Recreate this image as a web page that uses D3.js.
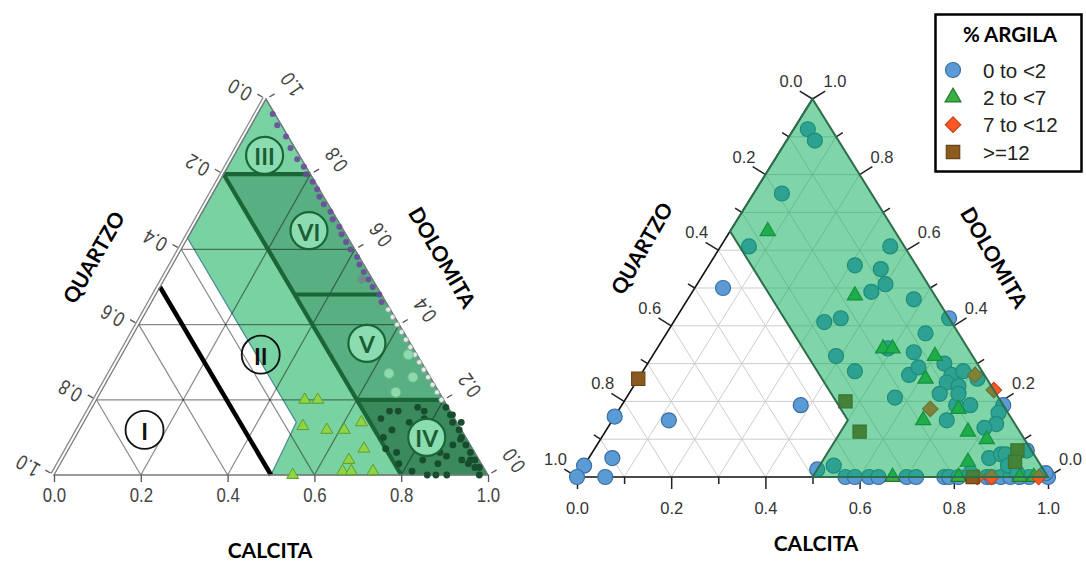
<!DOCTYPE html>
<html><head><meta charset="utf-8">
<script src="https://cdn.jsdelivr.net/npm/d3@7/dist/d3.min.js"></script>
<style>
body{margin:0;background:#fff;}
svg{display:block;}
</style></head><body>
<svg id="chart" width="1086" height="562"></svg>
<script>
// ================= DATA =================
// all compositions are [calcita, dolomita]; quartzo = 1 - calcita - dolomita
const axisNames = { quartzo: "QUARTZO", calcita: "CALCITA", dolomita: "DOLOMITA" };
const majorTicks = [0, 0.2, 0.4, 0.6, 0.8, 1.0];
const minorTicks = [0.1, 0.3, 0.5, 0.7, 0.9];
const leftGridSteps = [0.2, 0.4, 0.6, 0.8];
const rightGridSteps = [0.1, 0.2, 0.3, 0.4, 0.5, 0.6, 0.7, 0.8, 0.9];

// ---- left diagram: classification zones ----
const zoneCarbonate = [[0, 0.63], [0, 1], [1, 0], [0.5, 0], [0.49, 0.14]];
const zoneQ20 = [[0, 0.8], [0.2, 0.8], [1, 0], [0.8, 0]];
const zoneIV = [[0.6, 0.2], [0.8, 0.2], [1, 0], [0.8, 0]];
const lineQ50 = [[0.5, 0], [0, 0.5]];
const lineQ20 = [[0, 0.8], [0.8, 0]];
const lineD80 = [[0, 0.8], [0.2, 0.8]];
const lineD48 = [[0.32, 0.48], [0.52, 0.48]];
const lineD20 = [[0.6, 0.2], [0.8, 0.2]];
const zoneNames = ["I", "II", "III", "IV", "V", "VI"];
const zoneLabelAt = [[0.15, 0.12], [0.32, 0.32], [0.07, 0.85], [0.81, 0.10], [0.55, 0.35], [0.27, 0.65]];

// ---- left diagram: samples ----
const leftPurple = [[0.035,0.96],[0.06,0.93],[0.095,0.90],[0.12,0.87],[0.15,0.84],[0.175,0.82],[0.19,0.80],[0.215,0.78],[0.235,0.76],[0.25,0.74],[0.27,0.72],[0.295,0.70],[0.31,0.68],[0.335,0.66],[0.35,0.64],[0.37,0.62],[0.39,0.60],[0.415,0.58],[0.43,0.56],[0.45,0.54],[0.47,0.52],[0.49,0.50],[0.515,0.48],[0.53,0.46],[0.455,0.52]];
const leftGrey = [[0.555,0.44],[0.575,0.42],[0.595,0.40],[0.615,0.38],[0.635,0.36],[0.655,0.34],[0.675,0.32],[0.695,0.30],[0.715,0.28],[0.735,0.26],[0.755,0.24],[0.775,0.22],[0.795,0.20]];
const leftLight = [[0.64,0.27],[0.70,0.26],[0.68,0.22],[0.66,0.32]];
const leftTriangles = [[0.48,0.20],[0.51,0.20],[0.51,0.13],[0.57,0.12],[0.61,0.12],[0.64,0.14],[0.68,0.07],[0.66,0.04],[0.66,0.01],[0.68,0.01],[0.73,0.01],[0.55,0.0]];
const leftDark = [[0.68,0.15],[0.69,0.17],[0.71,0.17],[0.75,0.18],[0.75,0.14],[0.72,0.12],[0.71,0.10],[0.73,0.07],[0.76,0.06],[0.78,0.03],[0.83,0.04],[0.87,0.03],[0.88,0.05],[0.88,0.08],[0.92,0.04],[0.94,0.03],[0.96,0.02],[0.86,0.0],[0.88,0.0],[0.905,0.0],[0.89,0.10],[0.87,0.14],[0.84,0.16],[0.82,0.01],[0.86,0.06],[0.94,0.04],[0.98,0.0],[0.78,0.15],[0.77,0.17],
  [0.815,0.18],[0.835,0.16],[0.85,0.14],[0.875,0.12],[0.89,0.095],[0.91,0.08],[0.93,0.06],[0.95,0.04],[0.97,0.02]];

// ---- right diagram ----
const rightZone = [[0, 0.65], [0, 1], [1, 0], [0.5, 0], [0.5, 0.15]];
const clayClasses = ["0 to <2", "2 to <7", "7 to <12", ">=12"];
const legendTitle = "% ARGILA";
const clay0 = [[0.03,0.92],[0.06,0.89],[0.06,0.75],[0.06,0.61],[0.06,0.50],[0.31,0.56],[0.37,0.55],[0.40,0.51],[0.38,0.49],[0.36,0.61],
  [0.48,0.47],[0.32,0.41],[0.35,0.42],[0.58,0.42],[0.55,0.38],[0.39,0.32],[0.55,0.33],[0.49,0.34],[0.45,0.28],[0.57,0.27],
  [0.58,0.29],[0.63,0.30],[0.66,0.27],[0.66,0.25],[0.69,0.24],[0.66,0.22],[0.72,0.26],[0.57,0.21],[0.71,0.19],[0.74,0.19],
  [0.81,0.19],[0.81,0.17],[0.82,0.14],[0.71,0.15],[0.80,0.13],[0.38,0.19],[0.12,0.15],[0.00,0.16],[0.05,0.05],[0.00,0.03],
  [0.00,0.00],[0.06,0.00],[0.50,0.02],[0.53,0.03],[0.68,0.28],[0.70,0.22],
  [0.57,0],[0.59,0],[0.62,0],[0.64,0],[0.70,0],[0.72,0],[0.78,0],[0.79,0],[0.81,0],[0.87,0],[0.88,0],[0.90,0],[0.92,0],[0.94,0],[0.96,0],[1.0,0],
  [0.85,0.05],[0.87,0.06],[0.88,0.06],[0.90,0.03],[0.92,0.07],[0.93,0.01],[0.83,0.01],[0.99,0.01]];
const clay1 = [[0.08,0.65],[0.35,0.48],[0.48,0.34],[0.50,0.34],[0.60,0.32],[0.61,0.26],[0.72,0.18],[0.66,0.15],[0.77,0.12],[0.82,0.10],[0.81,0.04],
  [0.67,0],[0.81,0],[0.94,0],[0.97,0]];
const clay2 = [[0.71,0.27],[0.77,0.23],[0.66,0.18],[0.85,0],[0.88,0],[0.98,0]];
const clay3 = [[0.00,0.26],[0.47,0.20],[0.54,0.12],[0.90,0.07],[0.91,0.04],[0.84,0]];

// ================= LAYOUT =================
const LEFT = { left: 54, right: 488, base: 475, top: 99, apexX: 266 };
const RIGHT = { left: 577, right: 1048, base: 477, top: 99, apexX: 812.5 };

const svg = d3.select("#chart");
const line = d3.line();

function ternary(cfg) {
  const x = d3.scaleLinear().domain([0, 1]).range([cfg.left, cfg.right]);
  const y = d3.scaleLinear().domain([0, 1]).range([cfg.base, cfg.top]);
  const skew = (cfg.apexX - cfg.left) / (cfg.right - cfg.left);
  const p = ([c, d]) => [x(c + d * skew), y(d)];
  p.x = x; p.y = y;
  const A = [cfg.left, cfg.base], C = [cfg.apexX, cfg.top], B = [cfg.right, cfg.base];
  const nl = [C[1] - A[1], -(C[0] - A[0])]; const ll = Math.hypot(nl[0], nl[1]);
  p.nLeft = [nl[0] / ll, nl[1] / ll];
  const nr = [-(C[1] - B[1]), (C[0] - B[0])]; const lr = Math.hypot(nr[0], nr[1]);
  p.nRight = [nr[0] / lr, nr[1] / lr];
  return p;
}
function gridSegs(steps) {
  const s = [];
  steps.forEach(v => {
    s.push([[0, v], [1 - v, v]]);
    s.push([[v, 0], [v, 1 - v]]);
    s.push([[1 - v, 0], [0, 1 - v]]);
  });
  return s;
}
const fmt = d3.format(".1f");

// ================= LEFT DIAGRAM =================
(function () {
  const p = ternary(LEFT);
  const g = svg.append("g");
  const poly = pts => line(pts.map(p)) + "Z";

  g.append("path").attr("d", poly(zoneCarbonate)).attr("fill", "#78D2A1").attr("stroke", "#4A8C96").attr("stroke-width", 1.2);
  g.append("path").attr("d", poly(zoneQ20)).attr("fill", "#58AF81");
  g.append("path").attr("d", poly(zoneIV)).attr("fill", "#3A8A5E");

  // grid
  g.append("g").selectAll("path").data(gridSegs(leftGridSteps)).join("path")
    .attr("d", s => line(s.map(p))).attr("fill", "none")
    .attr("stroke", "rgba(20,20,20,0.5)").attr("stroke-width", 1.2);

  // thick boundaries
  [lineQ20, lineD80, lineD48, lineD20].forEach(l =>
    g.append("path").attr("d", line(l.map(p))).attr("stroke", "#1B6636").attr("stroke-width", 4.2).attr("fill", "none"));
  g.append("path").attr("d", line(lineQ50.map(p))).attr("stroke", "#000").attr("stroke-width", 4.5).attr("fill", "none");

  // outline (double left edge)
  const A = p([0, 0]), B = p([1, 0]), C = p([0, 1]);
  g.append("path").attr("d", line([A, B, C]) + "Z").attr("fill", "none").attr("stroke", "#7a7a7a").attr("stroke-width", 1.3);
  const off = 3.2;
  g.append("path").attr("d", line([[A[0] + p.nLeft[0] * off, A[1] + p.nLeft[1] * off], [C[0] + p.nLeft[0] * off, C[1] + p.nLeft[1] * off]]))
    .attr("stroke", "#8a8a8a").attr("stroke-width", 1.3);

  const lblFont = "'Liberation Sans',Arial,sans-serif";
  // base axis (calcita)
  const ax = g.append("g").attr("transform", `translate(0,${LEFT.base})`)
    .call(d3.axisBottom(p.x).tickValues(majorTicks).tickSize(7).tickPadding(5).tickFormat(fmt));
  ax.select(".domain").remove();
  ax.selectAll("line").attr("stroke", "#555").attr("stroke-width", 1.3);
  ax.selectAll("text").attr("font-family", lblFont).attr("transform", "scale(0.8,1)")
    .attr("font-size", 21).attr("fill", "#444");

  // left edge (quartzo) ticks + labels
  majorTicks.forEach(v => {
    const b = p([0, 1 - v]);
    g.append("line").attr("x1", b[0] + p.nLeft[0] * 4).attr("y1", b[1] + p.nLeft[1] * 4)
      .attr("x2", b[0] + p.nLeft[0] * 10).attr("y2", b[1] + p.nLeft[1] * 10).attr("stroke", "#555").attr("stroke-width", 1.3);
    g.append("text").attr("transform", `translate(${b[0] - 26},${b[1] - 9}) rotate(-150) scale(0.8,1)`)
      .attr("text-anchor", "middle").attr("dominant-baseline", "central")
      .attr("font-family", lblFont).attr("font-size", 21).attr("fill", "#444").text(fmt(v));
  });
  // right edge (dolomita) ticks + labels
  majorTicks.forEach(v => {
    const b = p([1 - v, v]);
    g.append("line").attr("x1", b[0] + p.nRight[0] * 4).attr("y1", b[1] + p.nRight[1] * 4)
      .attr("x2", b[0] + p.nRight[0] * 10).attr("y2", b[1] + p.nRight[1] * 10).attr("stroke", "#555").attr("stroke-width", 1.3);
    g.append("text").attr("transform", `translate(${b[0] + 26},${b[1] - 14.5}) rotate(-125) scale(0.8,1)`)
      .attr("text-anchor", "middle").attr("dominant-baseline", "central")
      .attr("font-family", lblFont).attr("font-size", 21).attr("fill", "#444").text(fmt(v));
  });

  // samples
  const at = d => { const q = p(d); return `translate(${q[0]},${q[1]})`; };
  g.append("g").selectAll("circle").data(leftGrey).join("circle")
    .attr("transform", at).attr("r", 2.6).attr("fill", "#e3ece7").attr("stroke", "#8c9a92").attr("stroke-width", 0.8);
  g.append("g").selectAll("circle").data(leftPurple).join("circle")
    .attr("transform", at).attr("r", (d, i) => i === leftPurple.length - 1 ? 4.2 : 3)
    .attr("fill", (d, i) => i === leftPurple.length - 1 ? "#6f8a8a" : "#6B4C9A").attr("opacity", 0.9);
  g.append("g").selectAll("circle").data(leftLight).join("circle")
    .attr("transform", at).attr("r", 5).attr("fill", "#8FD9AE").attr("stroke", "#6EBF90").attr("stroke-width", 1);
  g.append("g").selectAll("circle").data(leftDark).join("circle")
    .attr("transform", at).attr("r", 3.4).attr("fill", "#174D2D");
  g.append("g").selectAll("path").data(leftTriangles).join("path")
    .attr("transform", at).attr("d", d3.symbol().type(d3.symbolTriangle).size(62)())
    .attr("fill", "#8FD444").attr("stroke", "#5E9E2E").attr("stroke-width", 1);

  // zone labels
  zoneNames.forEach((n, i) => {
    const c = p(zoneLabelAt[i]);
    const plain = n === "I" || n === "II";
    g.append("circle").attr("cx", c[0]).attr("cy", c[1]).attr("r", plain ? 19 : 18.5)
      .attr("fill", n === "I" ? "#fff" : (plain ? "none" : "#8BDCB0"))
      .attr("stroke", plain ? "#111" : "#1B6636").attr("stroke-width", plain ? 1.8 : 2.2);
    g.append("text").attr("x", c[0]).attr("y", c[1] + 1).attr("text-anchor", "middle").attr("dominant-baseline", "central")
      .attr("font-family", "Lato, 'Open Sans', sans-serif").attr("font-weight", 700).attr("font-size", 23)
      .attr("fill", plain ? "#111" : "#1B5E35").text(n);
  });

  // axis titles
  const title = (x, y, r, t) => g.append("text").attr("transform", `translate(${x},${y}) rotate(${r})`)
    .attr("text-anchor", "middle").attr("dominant-baseline", "central")
    .attr("font-family", "Lato, 'Open Sans', sans-serif").attr("font-weight", 700).attr("font-size", 21).attr("fill", "#000").text(t);
  title(93, 257, -60, axisNames.quartzo);
  title(443, 257, 60, axisNames.dolomita);
  title(270, 549, 0, axisNames.calcita);
})();

// ================= RIGHT DIAGRAM =================
(function () {
  const p = ternary(RIGHT);
  const g = svg.append("g");
  const poly = pts => line(pts.map(p)) + "Z";

  g.append("g").selectAll("path").data(gridSegs(rightGridSteps)).join("path")
    .attr("d", s => line(s.map(p))).attr("fill", "none").attr("stroke", "#cdcdcd").attr("stroke-width", 1);

  const A = p([0, 0]), B = p([1, 0]), C = p([0, 1]);
  g.append("path").attr("d", line([B, A, C])).attr("fill", "none").attr("stroke", "#111").attr("stroke-width", 1.6);

  // base axis
  const ax = g.append("g").attr("transform", `translate(0,${RIGHT.base})`)
    .call(d3.axisBottom(p.x).tickValues(majorTicks).tickSize(12).tickPadding(13).tickFormat(fmt));
  ax.select(".domain").remove();
  const ax2 = g.append("g").attr("transform", `translate(0,${RIGHT.base})`)
    .call(d3.axisBottom(p.x).tickValues(minorTicks).tickSize(7).tickFormat(""));
  ax2.select(".domain").remove();
  [ax, ax2].forEach(a => a.selectAll("line").attr("stroke", "#222").attr("stroke-width", 1.5));
  ax.selectAll("text").attr("font-family", "'Liberation Sans',Arial,sans-serif").attr("font-size", 16.5).attr("fill", "#333");

  const tick = (b, n, len) => g.append("line").attr("x1", b[0]).attr("y1", b[1])
    .attr("x2", b[0] + n[0] * len).attr("y2", b[1] + n[1] * len).attr("stroke", "#222").attr("stroke-width", 1.5);
  const lab = (x, y, anchor, t) => g.append("text").attr("x", x).attr("y", y).attr("text-anchor", anchor)
    .attr("dominant-baseline", "central").attr("font-family", "'Liberation Sans',Arial,sans-serif")
    .attr("font-size", 16.5).attr("fill", "#333").text(t);
  majorTicks.forEach(v => {
    const bl = p([0, 1 - v]); tick(bl, p.nLeft, 15); lab(bl[0] - 10, bl[1] - 18, "end", fmt(v));
    const br = p([1 - v, v]); tick(br, p.nRight, 15); lab(br[0] + 11, br[1] - 18, "start", fmt(v));
  });
  minorTicks.forEach(v => { tick(p([0, 1 - v]), p.nLeft, 8); tick(p([1 - v, v]), p.nRight, 8); });

  // samples
  const at = (d, rot) => { const q = p(d); return `translate(${q[0]},${q[1]})` + (rot ? ` rotate(${rot})` : ""); };
  const pts = (data, type, size, fill, stroke, rot) => g.append("g").selectAll("path").data(data).join("path")
    .attr("transform", d => at(d, rot)).attr("d", d3.symbol().type(type).size(size)())
    .attr("fill", fill).attr("stroke", stroke).attr("stroke-width", 1.2);
  pts(clay0, d3.symbolCircle, 177, "#5B9BD5", "#3A6EA0");
  pts(clay1, d3.symbolTriangle, 100, "#3CB043", "#237A2E");
  pts(clay2, d3.symbolSquare, 120, "#FF5722", "#C8431A", 45);
  pts(clay3, d3.symbolSquare, 175, "#8B5A1E", "#6B4416");

  // carbonate zone overlay
  g.append("path").attr("d", poly(rightZone)).attr("fill", "rgb(0,170,82)").attr("fill-opacity", 0.5)
    .attr("stroke", "#2E6E4C").attr("stroke-width", 2);

  const title = (x, y, r, t) => g.append("text").attr("transform", `translate(${x},${y}) rotate(${r})`)
    .attr("text-anchor", "middle").attr("dominant-baseline", "central")
    .attr("font-family", "Lato, 'Open Sans', sans-serif").attr("font-weight", 700).attr("font-size", 21).attr("fill", "#000").text(t);
  title(641, 248, -60, axisNames.quartzo);
  title(995, 257, 60, axisNames.dolomita);
  title(816, 542, 0, axisNames.calcita);

  // legend
  const lg = svg.append("g");
  lg.append("rect").attr("x", 935.5).attr("y", 14.5).attr("width", 146).attr("height", 157)
    .attr("fill", "#fff").attr("stroke", "#000").attr("stroke-width", 2.5);
  lg.append("text").attr("x", 1010).attr("y", 34).attr("text-anchor", "middle").attr("dominant-baseline", "central")
    .attr("font-family", "Lato, 'Open Sans', sans-serif").attr("font-weight", 700).attr("font-size", 20.5).text(legendTitle);
  const legendSym = [
    { type: d3.symbolCircle, size: 177, fill: "#5B9BD5", stroke: "#3A6EA0", rot: 0 },
    { type: d3.symbolTriangle, size: 110, fill: "#3CB043", stroke: "#237A2E", rot: 0 },
    { type: d3.symbolSquare, size: 120, fill: "#FF5722", stroke: "#C8431A", rot: 45 },
    { type: d3.symbolSquare, size: 180, fill: "#8B5A1E", stroke: "#6B4416", rot: 0 }
  ];
  const ly = d3.scalePoint().domain(clayClasses).range([70, 152]);
  clayClasses.forEach((c, i) => {
    const s = legendSym[i];
    lg.append("path").attr("transform", `translate(953,${ly(c)}) rotate(${s.rot})`)
      .attr("d", d3.symbol().type(s.type).size(s.size)()).attr("fill", s.fill).attr("stroke", s.stroke).attr("stroke-width", 1.2);
    lg.append("text").attr("x", 983).attr("y", ly(c)).attr("dominant-baseline", "central")
      .attr("font-family", "'Liberation Sans',Arial,sans-serif").attr("font-size", 20.5).attr("fill", "#222").text(c);
  });
})();
</script>
</body></html>
